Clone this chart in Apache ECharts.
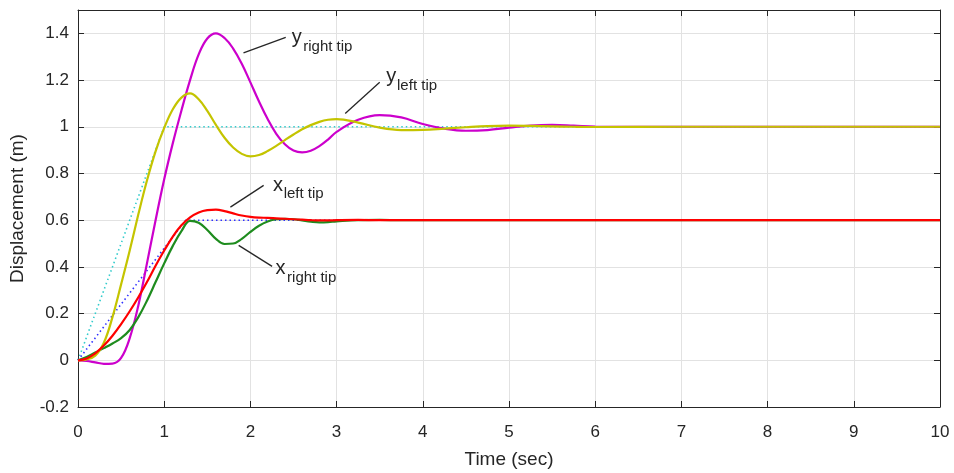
<!DOCTYPE html>
<html><head><meta charset="utf-8">
<script src="https://cdn.jsdelivr.net/npm/echarts@6/dist/echarts.min.js"></script>
<style>html,body{margin:0;padding:0;background:#fff}#c{width:954px;height:473px}</style>
</head><body><div id="c"></div>
<script>
// ---- data ----
const time = [0,0.1,0.2,0.3,0.4,0.5,0.6,0.7,0.8,0.9,1.0,1.1,1.2,1.3,1.4,1.5,1.6,1.7,1.8,1.9,2.0,
  2.1,2.2,2.3,2.4,2.5,2.6,2.7,2.8,2.9,3.0,3.25,3.5,3.75,4.0,4.25,4.5,4.75,5.0,5.25,5.5,5.75,6.0,7,8,9,10];
const yLeftTip = [0,0.004,0.02,0.075,0.185,0.325,0.47,0.625,0.77,0.895,0.995,1.075,1.125,1.143,1.118,1.068,1.008,0.953,0.911,0.884,0.873,
  0.879,0.896,0.918,0.943,0.967,0.989,1.007,1.021,1.03,1.033,1.018,0.996,0.986,0.987,0.992,0.998,1.003,1.005,1.004,1.002,1.0,0.999,1,1,1,1];
const yRightTip = [0,-0.003,-0.009,-0.015,-0.014,0.01,0.095,0.235,0.415,0.6,0.775,0.93,1.07,1.2,1.31,1.378,1.4,1.38,1.335,1.27,1.19,
  1.108,1.033,0.97,0.925,0.898,0.89,0.897,0.917,0.945,0.978,1.03,1.05,1.04,1.012,0.992,0.983,0.986,0.996,1.005,1.008,1.005,1.001,1,1,1,1];
const xLeftTip = [0,0.008,0.03,0.063,0.105,0.155,0.21,0.27,0.335,0.405,0.47,0.53,0.578,0.612,0.633,0.643,0.645,0.639,0.629,0.62,0.614,
  0.611,0.61,0.608,0.606,0.604,0.602,0.6,0.599,0.599,0.6,0.601,0.6,0.6,0.6,0.6,0.6,0.6,0.6,0.6,0.6,0.6,0.6,0.6,0.6,0.6,0.6];
const xRightTip = [0,0.014,0.033,0.052,0.072,0.095,0.13,0.185,0.255,0.335,0.415,0.49,0.553,0.597,0.589,0.558,0.52,0.498,0.5,0.52,0.55,
  0.576,0.594,0.604,0.606,0.604,0.599,0.594,0.591,0.592,0.595,0.6,0.601,0.6,0.6,0.6,0.6,0.6,0.6,0.6,0.6,0.6,0.6,0.6,0.6,0.6,0.6];
const yRefTime = [0,1,10];
const yRef = [0,1,1];
const xRefTime = [0,1.25,10];
const xRef = [0,0.6,0.6];

// annotation texts (anchor points in data units)
const notes = [
  {main:'y', sub:'right tip', from:[1.92,1.316], to:[2.41,1.383], at:[2.48,1.382], dx:11.5, dy:9},
  {main:'y', sub:'left tip',  from:[3.10,1.057], to:[3.50,1.191], at:[3.577,1.215], dx:10.7, dy:9.5},
  {main:'x', sub:'left tip',  from:[1.768,0.656], to:[2.154,0.749], at:[2.263,0.749], dx:10.6, dy:8.5},
  {main:'x', sub:'right tip', from:[1.864,0.492], to:[2.252,0.402], at:[2.29,0.394], dx:11.7, dy:10}
];

const pair = (ts, vs) => ts.map((t, i) => [t, vs[i]]);
const FONT = '"Liberation Sans", Arial, Helvetica, sans-serif';
const AX = '#262626';

const chart = echarts.init(document.getElementById('c'), null, {renderer:'canvas'});
const baseX = {min:0, max:10, interval:1, type:'value'};
const baseY = {min:-0.2, max:1.5, interval:0.2, type:'value'};
chart.setOption({
  animation:false,
  backgroundColor:'#fff',
  grid:{left:78, right:14, top:10, bottom:66, containLabel:false, outerBoundsMode:'none'},
  xAxis:[
    Object.assign({}, baseX, {position:'bottom',
      name:'Time (sec)', nameLocation:'middle', nameGap:43,
      nameTextStyle:{fontFamily:FONT, fontSize:19, color:AX},
      axisLine:{show:true, onZero:false, lineStyle:{color:AX, width:1}},
      axisTick:{show:true, inside:true, length:6, lineStyle:{color:AX}},
      axisLabel:{fontFamily:FONT, fontSize:17, color:AX, margin:17},
      splitLine:{show:true, lineStyle:{color:'#e2e2e2', width:1}}}),
    Object.assign({}, baseX, {position:'top',
      axisLine:{show:true, onZero:false, lineStyle:{color:AX, width:1}},
      axisTick:{show:true, inside:true, length:6, lineStyle:{color:AX}},
      axisLabel:{show:false}, splitLine:{show:false}})
  ],
  yAxis:[
    Object.assign({}, baseY, {position:'left',
      name:'Displacement (m)', nameLocation:'middle', nameGap:51, nameRotate:90,
      nameTextStyle:{fontFamily:FONT, fontSize:19, color:AX},
      axisLine:{show:true, onZero:false, lineStyle:{color:AX, width:1}},
      axisTick:{show:true, inside:true, length:6, lineStyle:{color:AX}},
      axisLabel:{fontFamily:FONT, fontSize:17, color:AX, margin:9, showMaxLabel:false,
        formatter: v => (Math.abs(v-1.5)<1e-6 ? '' : String(+v.toFixed(1)))},
      splitLine:{show:true, lineStyle:{color:'#e2e2e2', width:1}}}),
    Object.assign({}, baseY, {position:'right',
      axisLine:{show:true, onZero:false, lineStyle:{color:AX, width:1}},
      axisTick:{show:true, inside:true, length:6, lineStyle:{color:AX}},
      axisLabel:{show:false}, splitLine:{show:false}})
  ],
  series:[
    {type:'line', name:'y ref', data:pair(yRefTime, yRef), showSymbol:false, smooth:false,
      lineStyle:{color:'#33cccc', width:1.6, type:[1.5,3]}, z:2},
    {type:'line', name:'x ref', data:pair(xRefTime, xRef), showSymbol:false, smooth:false,
      lineStyle:{color:'#3030ff', width:1.6, type:[1.5,3]}, z:2},
    {type:'line', name:'y right tip', data:pair(time, yRightTip), showSymbol:false, smooth:0.4,
      lineStyle:{color:'#cc00cc', width:2.2}, z:3},
    {type:'line', name:'y left tip', data:pair(time, yLeftTip), showSymbol:false, smooth:0.4,
      lineStyle:{color:'#c4c400', width:2.2}, z:4},
    {type:'line', name:'x right tip', data:pair(time, xRightTip), showSymbol:false, smooth:0.4,
      lineStyle:{color:'#1e8c1e', width:2.2}, z:3},
    {type:'line', name:'x left tip', data:pair(time, xLeftTip), showSymbol:false, smooth:0.4,
      lineStyle:{color:'#ff0000', width:2.2}, z:4}
  ]
});

const g = [];
notes.forEach(a => {
  const p1 = chart.convertToPixel({seriesIndex:2}, a.from);
  const p2 = chart.convertToPixel({seriesIndex:2}, a.to);
  const p = chart.convertToPixel({seriesIndex:2}, a.at);
  g.push({type:'line', shape:{x1:p1[0], y1:p1[1], x2:p2[0], y2:p2[1]},
    style:{stroke:AX, lineWidth:1.3}, z:100});
  g.push({type:'text', x:p[0], y:p[1], z:100,
    style:{text:a.main, fontFamily:FONT, fontSize:20, fill:AX, align:'left', verticalAlign:'middle'}});
  g.push({type:'text', x:p[0]+a.dx, y:p[1]+a.dy, z:100,
    style:{text:a.sub, fontFamily:FONT, fontSize:15, fill:AX, align:'left', verticalAlign:'middle'}});
});
chart.setOption({graphic:g});
</script></body></html>
